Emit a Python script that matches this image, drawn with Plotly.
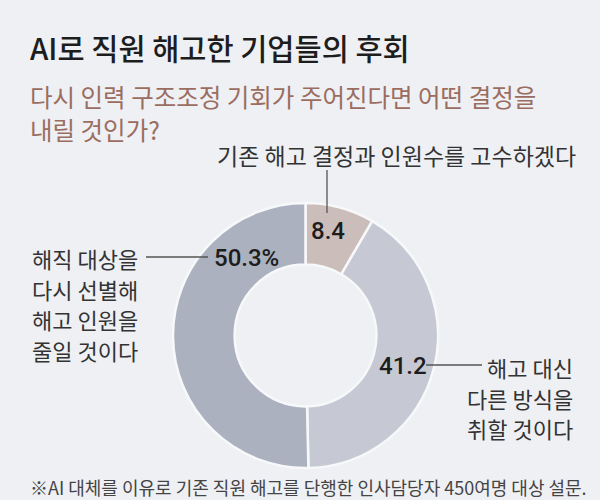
import plotly.graph_objects as go

# ---- data ----
categories = ["기존 해고 결정과 인원수를 고수하겠다",
              "해고 대신 다른 방식을 취할 것이다",
              "해직 대상을 다시 선별해 해고 인원을 줄일 것이다"]
values = [8.4, 41.2, 50.3]
slice_colors = ["#cbbdb9", "#c6c9d3", "#abb1bf"]

title_text = "AI로 직원 해고한 기업들의 후회"
subtitle_lines = ["다시 인력 구조조정 기회가 주어진다면 어떤 결정을", "내릴 것인가?"]
top_label = "기존 해고 결정과 인원수를 고수하겠다"
right_label_lines = ["해고 대신", "다른 방식을", "취할 것이다"]
left_label_lines = ["해직 대상을", "다시 선별해", "해고 인원을", "줄일 것이다"]
footnote = "※AI 대체를 이유로 기존 직원 해고를 단행한 인사담당자 450여명 대상 설문."

W, H = 600, 500
BG = "#eef0f4"
FONT = "Noto Sans CJK KR"
NUMFONT = "Roboto"


def px(x):
    return x / W


def py(y):
    return 1 - y / H


fig = go.Figure()
fig.add_trace(go.Pie(
    labels=categories, values=values, sort=False, direction="clockwise",
    rotation=0, hole=0.535, textinfo="none", hoverinfo="label+value",
    marker=dict(colors=slice_colors, line=dict(color="#f7f8fa", width=2.5)),
    domain=dict(x=[px(173), px(438)], y=[py(468), py(203)]),
    showlegend=False,
))

ann = []


def txt(x, y, s, size, color="#2a2a2a", xanchor="left", family=FONT, weight=None):
    f = dict(family=family, size=size, color=color)
    if weight:
        f["weight"] = weight
    ann.append(dict(x=px(x), y=py(y), xref="paper", yref="paper", text=s,
                    showarrow=False, xanchor=xanchor, yanchor="middle", font=f))


txt(28, 47, title_text, 29.5, "#1d1d1d", weight=500)
txt(28, 97, subtitle_lines[0], 24.5, "#9b6d60")
txt(28, 129, subtitle_lines[1], 24.5, "#9b6d60")
txt(215, 155, top_label, 23, "#333333")
txt(328, 231, f"{values[0]}", 24, "#1d1d1d", xanchor="center", family=NUMFONT, weight=500)
txt(212, 258, f"{values[2]}%", 24, "#1d1d1d", family=NUMFONT, weight=500)
txt(377, 366, f"{values[1]}", 24, "#1d1d1d", family=NUMFONT, weight=500)
for i, s in enumerate(left_label_lines):
    txt(30, 258 + i * 30.5, s, 22, "#333333")
for i, s in enumerate(right_label_lines):
    txt(575, 367 + i * 30.5, s, 22, "#333333", xanchor="right")
txt(28, 487, footnote, 18, "#444444")

shapes = [
    dict(type="line", xref="paper", yref="paper", x0=px(327), x1=px(327),
         y0=py(170), y1=py(213), line=dict(color="#555555", width=1.3)),
    dict(type="line", xref="paper", yref="paper", x0=px(146), x1=px(208),
         y0=py(257), y1=py(257), line=dict(color="#555555", width=1.3)),
    dict(type="line", xref="paper", yref="paper", x0=px(426), x1=px(482),
         y0=py(365), y1=py(365), line=dict(color="#555555", width=1.3)),
]

fig.update_layout(
    width=W, height=H, margin=dict(l=0, r=0, t=0, b=0),
    paper_bgcolor=BG, plot_bgcolor=BG,
    annotations=ann, shapes=shapes,
)
fig.write_html("out.html", config={"displayModeBar": False},
               post_script="document.body.style.margin='0';document.body.style.overflow='hidden';")
